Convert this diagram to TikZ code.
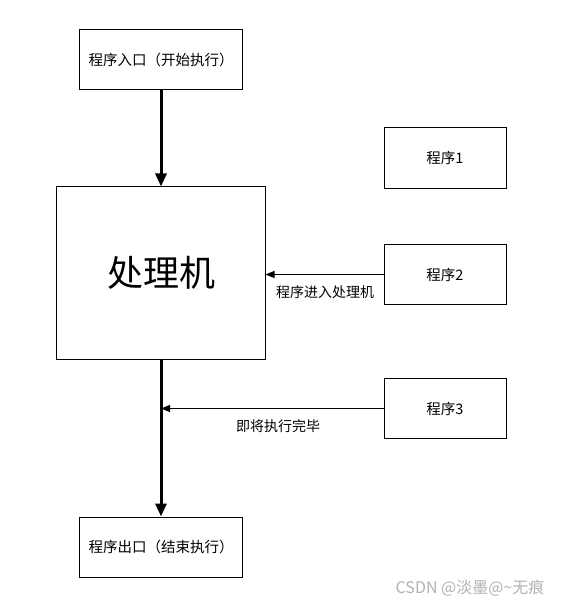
\documentclass[tikz,border=0pt]{standalone}
\usepackage{fontspec}
\setmainfont{Noto Sans CJK SC}
\usetikzlibrary{arrows.meta}
\begin{document}
\begin{tikzpicture}[x=1bp,y=-1bp,
  box/.style={draw, line width=1bp, inner sep=0pt, font=\fontsize{14.5bp}{17bp}\selectfont},
  bigarrow/.style={line width=3bp, -{Triangle[length=13bp,width=11bp]}},
  thinarrow/.style={line width=1bp, -{Triangle[length=9bp,width=7bp]}},
  lbl/.style={inner sep=0pt, font=\fontsize{14bp}{17bp}\selectfont}]
\useasboundingbox[fill=white] (0,0) rectangle (577,607);
\node[box, minimum width=163bp, minimum height=60bp] (entry) at (161,60) {程序入口（开始执行）};
\node[box, minimum width=208bp, minimum height=172bp, font=\fontsize{36bp}{40bp}\selectfont] (proc) at (161,273) {处理机};
\node[box, minimum width=122bp, minimum height=60bp] (p1) at (445,158) {程序1};
\node[box, minimum width=122bp, minimum height=60bp] (p2) at (445,274.5) {程序2};
\node[box, minimum width=122bp, minimum height=60bp] (p3) at (445,408.5) {程序3};
\node[box, minimum width=163bp, minimum height=60bp] (exit) at (161,547) {程序出口（结束执行）};
\coordinate (j) at (161,408.5);
\draw[bigarrow] (entry.south) -- (proc.north);
\draw[bigarrow] (proc.south) -- (exit.north);
\draw[thinarrow] (p2.west) -- (proc.east |- p2.west);
\draw[thinarrow] (p3.west) -- (j);
\node[lbl] (l2) at (325,292) {程序进入处理机};
\node[lbl] (l3) at (278,426) {即将执行完毕};
\node[inner sep=0pt, text=gray!60, font=\fontsize{16bp}{18bp}\selectfont] (wm) at (470,588) {CSDN @淡墨@\textasciitilde 无痕};
\end{tikzpicture}
\end{document}
